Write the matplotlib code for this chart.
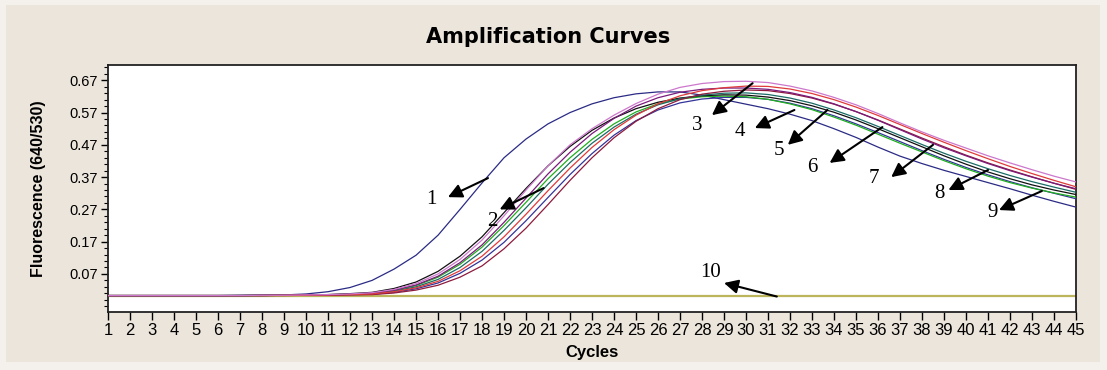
import numpy as np
import matplotlib
matplotlib.use("Agg")
import matplotlib.pyplot as plt
from matplotlib.ticker import FixedLocator
from matplotlib.patches import Rectangle

cycles = list(range(1, 46))

# fluorescence readings per sample (640/530), cycles 1..45
curve1 = [0.003, 0.003, 0.003, 0.003, 0.003, 0.003, 0.004, 0.004, 0.005, 0.008, 0.015, 0.028, 0.05, 0.085, 0.128,
          0.19, 0.27, 0.352, 0.43, 0.488, 0.535, 0.57, 0.597, 0.616, 0.628, 0.634, 0.634, 0.624, 0.61, 0.596,
          0.582, 0.565, 0.545, 0.52, 0.493, 0.463, 0.435, 0.412, 0.391, 0.372, 0.353, 0.334, 0.314, 0.295, 0.277]
curve_a = [0.003, 0.003, 0.003, 0.003, 0.003, 0.003, 0.003, 0.004, 0.004, 0.005, 0.006, 0.008, 0.012, 0.022, 0.04,
           0.07, 0.115, 0.175, 0.25, 0.33, 0.405, 0.47, 0.52, 0.562, 0.598, 0.627, 0.648, 0.66, 0.666, 0.667,
           0.663, 0.652, 0.637, 0.617, 0.594, 0.567, 0.538, 0.51, 0.484, 0.46, 0.436, 0.414, 0.393, 0.373, 0.355]
curve_b = [0.003, 0.003, 0.003, 0.003, 0.003, 0.003, 0.003, 0.003, 0.004, 0.004, 0.005, 0.006, 0.008, 0.015, 0.027,
           0.047, 0.08, 0.125, 0.185, 0.255, 0.328, 0.398, 0.462, 0.517, 0.562, 0.597, 0.622, 0.638, 0.647, 0.652,
           0.651, 0.643, 0.629, 0.61, 0.587, 0.561, 0.533, 0.505, 0.478, 0.452, 0.427, 0.403, 0.381, 0.36, 0.34]
curve_c = [0.003, 0.003, 0.003, 0.003, 0.003, 0.003, 0.003, 0.004, 0.004, 0.005, 0.006, 0.007, 0.01, 0.02, 0.036,
           0.063, 0.105, 0.16, 0.23, 0.305, 0.38, 0.447, 0.505, 0.552, 0.59, 0.616, 0.633, 0.642, 0.646, 0.646,
           0.642, 0.632, 0.617, 0.597, 0.573, 0.546, 0.517, 0.488, 0.461, 0.436, 0.412, 0.39, 0.37, 0.351, 0.334]
curve_d = [0.003, 0.003, 0.003, 0.003, 0.003, 0.003, 0.003, 0.003, 0.003, 0.004, 0.004, 0.005, 0.006, 0.011, 0.02,
           0.035, 0.06, 0.095, 0.148, 0.212, 0.285, 0.36, 0.43, 0.492, 0.543, 0.582, 0.61, 0.627, 0.636, 0.64,
           0.638, 0.629, 0.615, 0.596, 0.573, 0.547, 0.519, 0.491, 0.464, 0.438, 0.414, 0.392, 0.371, 0.351, 0.332]
curve_e = [0.003, 0.003, 0.003, 0.003, 0.003, 0.003, 0.003, 0.003, 0.004, 0.004, 0.005, 0.007, 0.009, 0.017, 0.03,
           0.053, 0.09, 0.14, 0.205, 0.275, 0.348, 0.415, 0.475, 0.525, 0.565, 0.594, 0.613, 0.624, 0.63, 0.631,
           0.626, 0.615, 0.599, 0.578, 0.554, 0.527, 0.499, 0.471, 0.444, 0.419, 0.396, 0.375, 0.356, 0.339, 0.323]
curve_f = [0.003, 0.003, 0.003, 0.003, 0.003, 0.003, 0.003, 0.004, 0.004, 0.005, 0.006, 0.009, 0.013, 0.025, 0.045,
           0.078, 0.125, 0.185, 0.26, 0.335, 0.405, 0.465, 0.515, 0.553, 0.582, 0.602, 0.615, 0.622, 0.625, 0.624,
           0.618, 0.607, 0.591, 0.571, 0.547, 0.52, 0.492, 0.464, 0.436, 0.41, 0.386, 0.365, 0.346, 0.33, 0.316]
curve_g = [0.003, 0.003, 0.003, 0.003, 0.003, 0.003, 0.003, 0.004, 0.004, 0.005, 0.006, 0.007, 0.01, 0.019, 0.034,
           0.06, 0.1, 0.153, 0.22, 0.292, 0.365, 0.43, 0.487, 0.535, 0.572, 0.597, 0.612, 0.619, 0.621, 0.619,
           0.611, 0.597, 0.579, 0.556, 0.531, 0.503, 0.475, 0.448, 0.421, 0.396, 0.373, 0.353, 0.336, 0.321, 0.308]
curve_h = [0.003, 0.003, 0.003, 0.003, 0.003, 0.003, 0.003, 0.003, 0.004, 0.004, 0.005, 0.006, 0.007, 0.013, 0.024,
           0.042, 0.072, 0.113, 0.168, 0.235, 0.307, 0.378, 0.443, 0.5, 0.545, 0.578, 0.6, 0.612, 0.617, 0.617,
           0.611, 0.599, 0.582, 0.56, 0.535, 0.508, 0.48, 0.452, 0.425, 0.4, 0.377, 0.356, 0.337, 0.32, 0.303]
curve10 = [0.003, 0.003, 0.003, 0.003, 0.003, 0.003, 0.003, 0.003, 0.003, 0.003, 0.003, 0.003, 0.003, 0.003, 0.003,
           0.003, 0.003, 0.003, 0.003, 0.003, 0.003, 0.003, 0.003, 0.003, 0.003, 0.003, 0.003, 0.003, 0.003, 0.003,
           0.003, 0.003, 0.003, 0.003, 0.003, 0.003, 0.003, 0.003, 0.003, 0.003, 0.003, 0.003, 0.003, 0.003, 0.003]

y_ticks = [0.07, 0.17, 0.27, 0.37, 0.47, 0.57, 0.67]
y_minor = [-0.03, -0.01, 0.01, 0.03, 0.05, 0.09, 0.11, 0.13, 0.15, 0.19, 0.21, 0.23, 0.25, 0.29, 0.31, 0.33, 0.35,
           0.39, 0.41, 0.43, 0.45, 0.49, 0.51, 0.53, 0.55, 0.59, 0.61, 0.63, 0.65, 0.69, 0.71]

# label text, label position, arrow head, arrow tail  (cycle, fluorescence)
labels = ["1", "2", "3", "4", "5", "6", "7", "8", "9", "10"]
label_pos = [(15.7, 0.30), (18.45, 0.231), (27.8, 0.531), (29.7, 0.51), (31.5, 0.454),
             (33.0, 0.40), (35.8, 0.367), (38.8, 0.32), (41.2, 0.259), (28.4, 0.073)]
arrow_head = [(16.45, 0.308), (18.8, 0.27), (28.45, 0.562), (30.4, 0.522), (31.9, 0.47),
              (33.8, 0.414), (36.6, 0.37), (39.2, 0.33), (41.5, 0.268), (29.0, 0.042)]
arrow_tail = [(18.27, 0.367), (20.8, 0.336), (30.3, 0.661), (32.2, 0.578), (33.7, 0.578),
              (36.2, 0.525), (38.5, 0.47), (41.0, 0.392), (43.45, 0.327), (31.4, 0.0)]

fig = plt.figure(figsize=(11.07, 3.70), dpi=100, facecolor='#f4f1ec')
# inner panel of the instrument window
fig.patches.append(Rectangle((6 / 1107, 8 / 370), 1094 / 1107, 357 / 370, transform=fig.transFigure,
                             facecolor='#ece5db', edgecolor='none', zorder=-5))
ax = fig.add_axes([0.0976, 0.157, 0.8744, 0.667])
ax.set_zorder(2)
ax.set_facecolor('white')

ax.plot(cycles, curve10, color='#bdb45c', lw=1.6, zorder=2)
series = [(curve1, '#2b2b85'), (curve_h, '#34349a'), (curve_g, '#1fae1f'), (curve_f, '#111111'),
          (curve_e, '#1b6b66'), (curve_d, '#8e1a3c'), (curve_c, '#7b1b7b'), (curve_b, '#e03a3a'),
          (curve_a, '#cc78cc')]
for vals, col in series:
    ax.plot(cycles, vals, color=col, lw=0.9, zorder=3)

for txt, lp, hd, tl in zip(labels, label_pos, arrow_head, arrow_tail):
    ax.annotate('', xy=hd, xytext=tl,
                arrowprops=dict(arrowstyle='-|>', color='black', lw=1.5, mutation_scale=21,
                                shrinkA=0, shrinkB=0), zorder=5)
    ax.text(lp[0], lp[1], txt, ha='center', va='center', fontsize=15,
            family='Liberation Serif', zorder=5)

ax.set_xlim(1, 45)
ax.set_ylim(-0.0476, 0.717)
ax.set_xticks(cycles)
ax.set_xticklabels([str(c) for c in cycles], family='Liberation Sans', fontsize=12)
ax.set_yticks(y_ticks)
ax.set_yticklabels(['%.2f' % v for v in y_ticks], family='Liberation Sans', fontsize=10.5)
ax.yaxis.set_minor_locator(FixedLocator(y_minor))
ax.tick_params(axis='x', length=6, width=1, pad=2)
ax.tick_params(axis='y', which='major', length=5, width=1, pad=2)
ax.tick_params(axis='y', which='minor', length=3, width=0.8)
for s in ax.spines.values():
    s.set_linewidth(1.3)
    s.set_color('#222222')

ax.set_xlabel('Cycles', fontsize=12, fontweight='bold', family='Liberation Sans', labelpad=5)
ax.set_ylabel('Fluorescence (640/530)', fontsize=11.5, fontweight='bold', family='Liberation Sans',
              labelpad=17)
fig.text(0.495, 0.9, 'Amplification Curves', ha='center', va='center', fontsize=15,
         fontweight='heavy', family='DejaVu Sans')

fig.savefig('out.png', dpi=100, facecolor=fig.get_facecolor())
